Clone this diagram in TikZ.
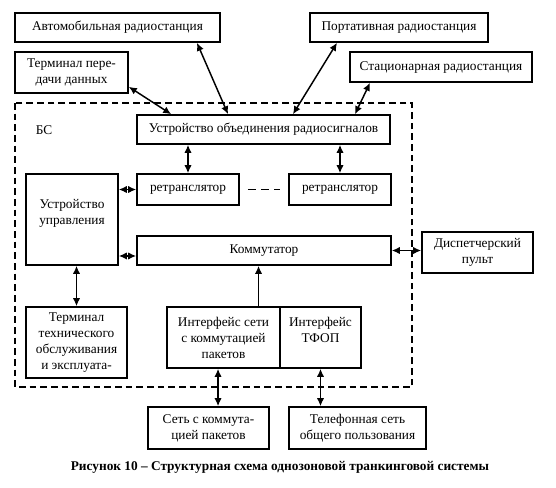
\documentclass[tikz,border=0pt]{standalone}
\usepackage{fontspec}
\setmainfont{Liberation Serif}
\usetikzlibrary{arrows.meta}
\tikzstyle{blk} = [draw=black, line width=1.2pt, rectangle, inner sep=2pt,
    align=center, font=\rmfamily\fontsize{10}{12}\selectfont]
\tikzstyle{conn} = [line width=1.1pt, {Latex[length=6pt,width=5.5pt]}-{Latex[length=6pt,width=5.5pt]}]
\tikzstyle{bs-frame} = [line width=1pt, dash pattern=on 5pt off 3pt]

\begin{document}
\begin{tikzpicture}[x=0.75pt, y=-0.75pt]
\useasboundingbox (0,0) rectangle (556,487);
% outer radio stations and terminals
\node [blk, minimum width=153.75pt, minimum height=21.75pt] (avto) at (117.5,27.5) {Автомобильная радиостанция};
\node [blk, minimum width=133.5pt, minimum height=21.75pt] (port) at (399,27.5) {Портативная радиостанция};
\node [blk, minimum width=84.75pt, minimum height=30.75pt] (term) at (71.5,72.5) {Терминал пере-\\дачи данных};
\node [blk, minimum width=136.5pt, minimum height=22.5pt] (stac) at (441,67) {Стационарная радиостанция};
% base station
\draw [bs-frame] (15,103) rectangle (412,387);
\node [font=\rmfamily\fontsize{10}{12}\selectfont] (bs) at (44,130) {БС};
\node [blk, minimum width=189.75pt, minimum height=21.75pt] (uo) at (263.5,129.5) {Устройство объединения радиосигналов};
\node [blk, minimum width=76.5pt, minimum height=23.25pt] (ret1) at (188,189.5) {ретранслятор};
\node [blk, minimum width=76.5pt, minimum height=23.25pt] (ret2) at (340,189.5) {ретранслятор};
\node [blk, minimum width=69pt, minimum height=68.25pt] (uu) at (72,219.5) {Устройство\\управления\\\mbox{}};
\node [blk, minimum width=190.5pt, minimum height=21.75pt] (kom) at (264,250.5) {Коммутатор};
\node [blk, minimum width=83.25pt, minimum height=30.75pt] (disp) at (477.5,252.5) {Диспетчерский\\пульт};
\node [blk, minimum width=75.75pt, minimum height=53.25pt] (tto) at (76.5,342.5) {Терминал\\технического\\обслуживания\\и эксплуата-};
\node [blk, minimum width=84.75pt, minimum height=45.75pt] (ipk) at (223.5,337.5) {Интерфейс сети\\с коммутацией\\пакетов};
\node [blk, minimum width=60.75pt, minimum height=45.75pt] (tfop) at (320.5,337.5) {Интерфейс\\ТФОП\\\mbox{}};
% outer networks
\node [blk, minimum width=90.75pt, minimum height=31.5pt] (spk) at (208.5,428) {Сеть с коммута-\\цией пакетов};
\node [blk, minimum width=102.75pt, minimum height=31.5pt] (tsop) at (357.5,428) {Телефонная сеть\\общего пользования};
\node [font=\rmfamily\bfseries\fontsize{10}{12}\selectfont] (cap) at (280,467) {Рисунок 10 -- Структурная схема однозоновой транкинговой системы};

\draw [conn] ([xshift=59.6pt]avto.south) -- ([xshift=-26.6pt]uo.north);
\draw [conn] ([yshift=5.25pt]term.south east) -- ([xshift=26.25pt]uo.north west);
\draw [conn] ([xshift=-46.5pt]port.south) -- ([xshift=22.1pt]uo.north);
\draw [conn] ([xshift=-53.25pt]stac.south) -- ([xshift=68.6pt]uo.north);
\draw [conn] (ret1.north) -- (ret1.north |- uo.south);
\draw [conn] (ret2.north) -- (ret2.north |- uo.south);
\draw [line width=1.1pt, dash pattern=on 6pt off 4pt, shorten <=6pt, shorten >=6pt] (ret1.east) -- (ret2.west);
\draw [conn] (ret1.west) -- (ret1.west -| uu.east);
\draw [conn] ([yshift=-4.1pt]kom.west) -- ([yshift=-4.1pt]kom.west -| uu.east);
\draw [conn] (kom.east) -- (kom.east -| disp.west);
\draw [conn] (tto.north) -- (tto.north |- uu.south);
\draw [conn, {Latex[length=6pt,width=5.5pt]}-] ([xshift=-4.1pt]kom.south) -- ([xshift=-4.1pt]kom.south |- ipk.north);
\draw [conn] ([xshift=-4.1pt]ipk.south) -- ([xshift=-4.1pt]ipk.south |- spk.north);
\draw [conn] (tfop.south) -- (tfop.south |- tsop.north);
\end{tikzpicture}
\end{document}
